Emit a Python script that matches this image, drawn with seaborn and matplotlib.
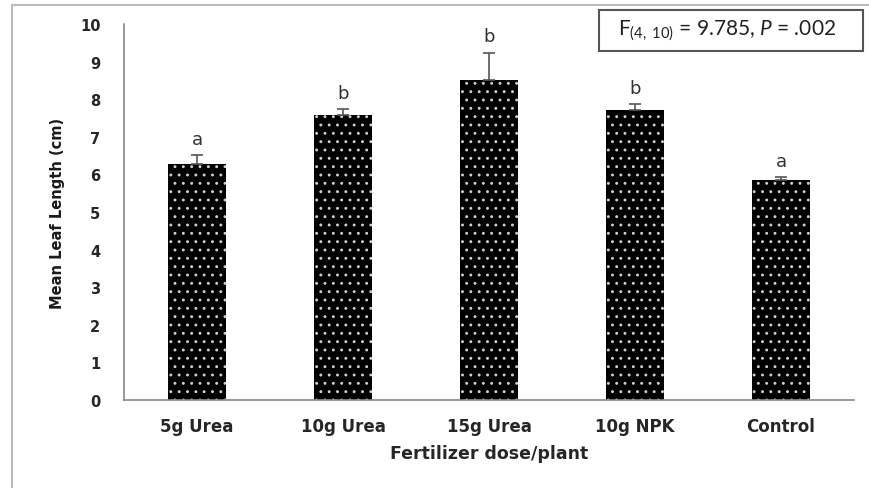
import matplotlib
matplotlib.use("Agg")
import matplotlib.pyplot as plt
import seaborn as sns
from matplotlib.patches import Rectangle
from matplotlib.lines import Line2D

treatments = ["5g Urea", "10g Urea", "15g Urea", "10g NPK", "Control"]
mean_length = [6.28, 7.58, 8.50, 7.70, 5.86]
std_err = [0.23, 0.15, 0.74, 0.16, 0.06]
letters = ["a", "b", "b", "b", "a"]

sns.set_style("white")
plt.rcParams["font.family"] = ["DejaVu Sans"]
plt.rcParams["mathtext.fontset"] = "custom"
plt.rcParams["mathtext.rm"] = "Lato"
plt.rcParams["mathtext.it"] = "Lato:italic"
plt.rcParams["hatch.linewidth"] = 0.9

fig = plt.figure(figsize=(8.7, 4.89), dpi=100)
ax = fig.add_axes([0.1425, 0.180, 0.8391, 0.769])

sns.barplot(x=treatments, y=mean_length, color="black", width=0.4,
            hatch="..", edgecolor="#d0d0d0", linewidth=0, ax=ax)
ax.errorbar(range(len(treatments)), mean_length,
            yerr=[[0] * len(std_err), std_err], fmt="none",
            ecolor="#555555", elinewidth=1.2, capsize=4, capthick=1.2)

for i, (m, e, lab) in enumerate(zip(mean_length, std_err, letters)):
    ax.text(i, m + e + 0.2, lab, ha="center", va="bottom",
            fontsize=13, color="#333333")

ax.set_ylim(0, 10)
ax.set_xlim(-0.5, 4.5)
ax.set_yticks(range(0, 11))
ax.set_xticks(range(len(treatments)))
ax.set_xticklabels(treatments, fontweight="bold", fontsize=12)
ax.set_xticks([x - 0.5 for x in range(len(treatments) + 1)], minor=True)
ax.tick_params(axis="x", which="major", length=0, pad=12)
ax.tick_params(axis="x", which="minor", length=5, color="#888888", width=1)
ax.tick_params(axis="y", length=6, color="#888888", width=1, pad=11,
               labelsize=10.5)
for t in ax.get_yticklabels():
    t.set_fontweight("bold")

for s in ["top", "right"]:
    ax.spines[s].set_visible(False)
for s in ["left", "bottom"]:
    ax.spines[s].set_color("#888888")
    ax.spines[s].set_linewidth(1.2)

ax.set_ylabel("Mean Leaf Length (cm)", fontsize=10.5, fontweight="bold",
              color="#1a1a1a")
ax.yaxis.set_label_coords(-0.081, 0.5)
ax.set_xlabel("Fertilizer dose/plant", fontsize=12.5, fontweight="bold",
              labelpad=7)

# stats box
fig.patches.append(Rectangle((599 / 870, 1 - 52 / 489), 264 / 870, 41 / 489,
                             transform=fig.transFigure, fill=False,
                             edgecolor="#555555", linewidth=1.5))
fig.text(727 / 870, 1 - 31 / 489,
         r"F$_{(4,\ 10)}$ = 9.785, $\mathit{P}$ = .002",
         family="Lato", ha="center", va="center", fontsize=15,
         color="#222222")

# outer frame lines
fig.lines.append(Line2D([12 / 870, 12 / 870], [0, 1 - 6 / 489],
                        transform=fig.transFigure, color="#bbbbbb", lw=1.5))
fig.lines.append(Line2D([12 / 870, 1], [1 - 6 / 489, 1 - 6 / 489],
                        transform=fig.transFigure, color="#bbbbbb", lw=1.5))

fig.savefig("out.png", dpi=100)
